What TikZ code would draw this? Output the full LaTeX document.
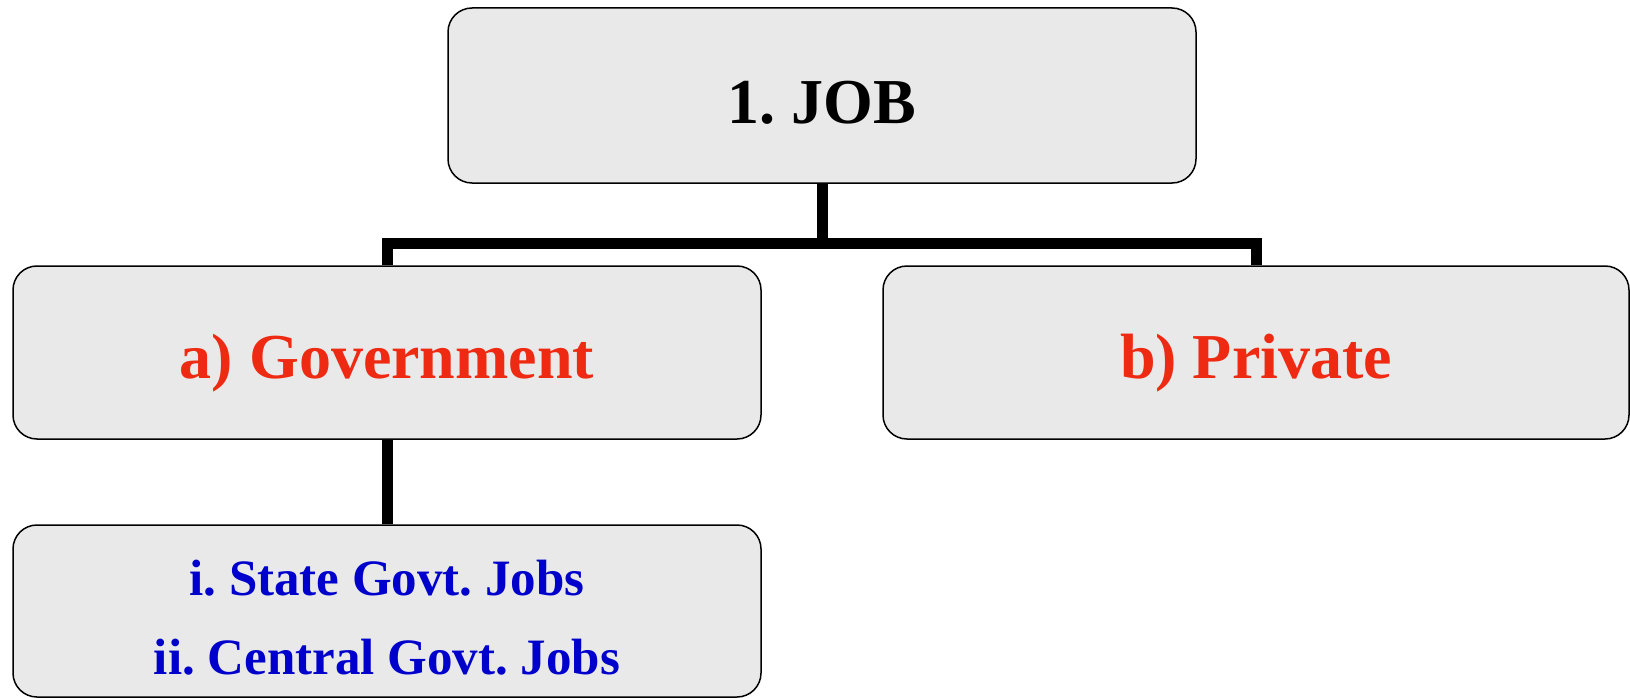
\documentclass[tikz,border=0pt]{standalone}
\usepackage{xcolor}
\usepackage{fontspec}
\setmainfont{Liberation Serif}
\usepackage{tikz}
\usetikzlibrary{calc}

\definecolor{boxgray}{RGB}{233,233,233}
\definecolor{headred}{RGB}{238,42,18}
\definecolor{itemblue}{RGB}{0,0,204}

\frenchspacing

\begin{document}
\begin{tikzpicture}[x=1pt, y=-1pt,
		box/.style = {draw, line width = 1.5pt, fill = boxgray, rounded corners = 24pt, minimum width = 748pt, minimum height = 173pt, inner sep = 0pt, font = \bfseries},
		big/.style = {font = \fontsize{64}{64}\selectfont\bfseries, text depth = 0pt},
		link/.style = {line width = 11pt, line join = miter}]
					\def\W{1630};
					\def\H{698};
					
					\useasboundingbox (0,0) rectangle (\W,\H);
					
					\begin{scope}
						\node [box, big, minimum height = 175pt, text height = 56pt] (job) at (822,95.5) {1. JOB};
						
						\node [box, big, text = headred, text height = 52pt] (gov) at (387,352.5) {a) Government};
						\node [box, big, minimum width = 746pt, text = headred, text height = 52pt] (priv) at (1256,352.5) {b) Private};
						
						\node [box, minimum height = 172pt, text = itemblue, align = center, text height = 140pt, text depth = 14pt, font = \fontsize{51}{79}\selectfont\bfseries] (govjobs) at (387,611) {i. State Govt. Jobs\\ii. Central Govt. Jobs};
					\end{scope}
					
					\begin{scope}
						\coordinate (bus) at (822,243.5);
						\draw [link] (job.south) -- (bus);
						\draw [link] (gov.north) |- (bus) -| (priv.north);
						\draw [link] (gov.south) -- (govjobs.north);
					\end{scope}
				\end{tikzpicture}
\end{document}
